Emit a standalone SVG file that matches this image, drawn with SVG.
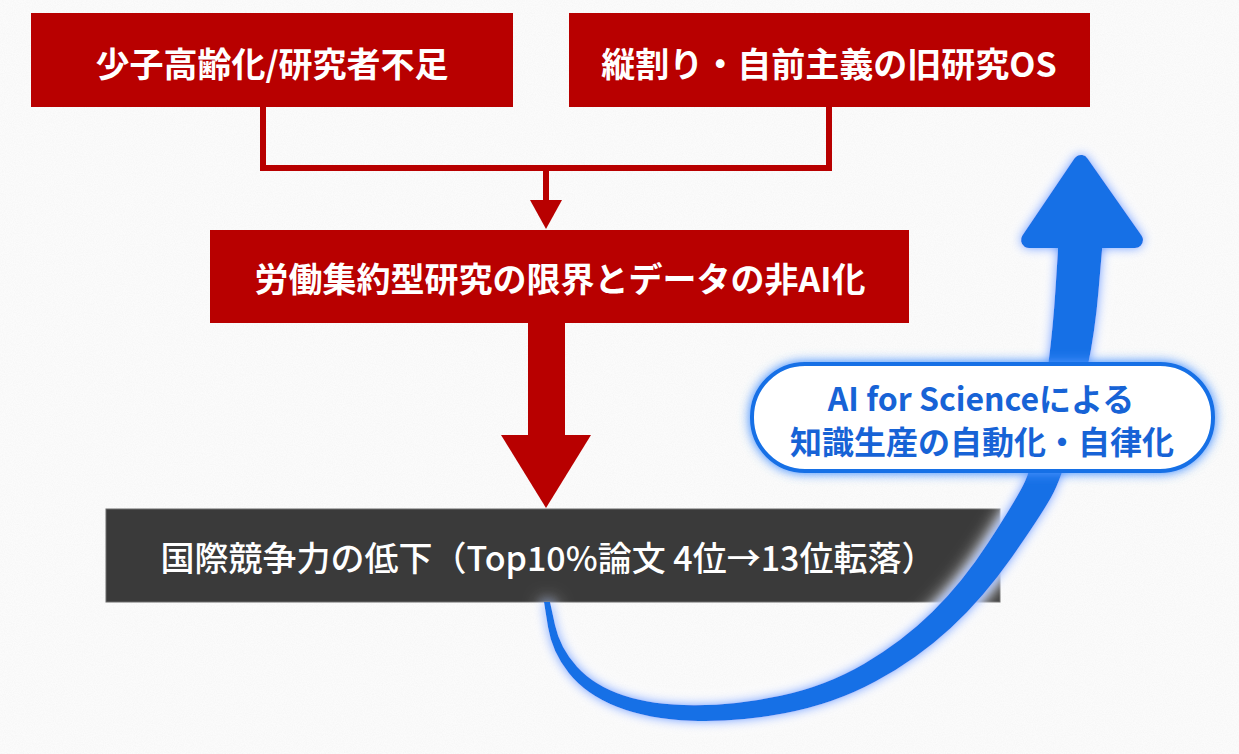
<svg xmlns="http://www.w3.org/2000/svg" width="1239" height="754" viewBox="0 0 1239 754">
<style>
.red{fill:#b80000}
.lbl{font-family:"Noto Sans CJK JP","Noto Sans",sans-serif;font-weight:700;font-size:34px;fill:#ffffff;text-anchor:middle;dominant-baseline:central}
.lbl2{font-family:"Noto Sans CJK JP","Noto Sans",sans-serif;font-weight:500;font-size:34px;fill:#ffffff;text-anchor:middle;dominant-baseline:central}
.blu{font-family:"Noto Sans CJK JP","Noto Sans",sans-serif;font-weight:700;font-size:32px;fill:#1763d6;text-anchor:middle;dominant-baseline:central}
.conn{fill:none;stroke:#b80000;stroke-width:6}
.arrowblue{fill:#1570e6;stroke:#1570e6}
</style>
<defs>
<filter id="tex" x="0" y="0" width="100%" height="100%">
<feTurbulence type="fractalNoise" baseFrequency="0.9" numOctaves="2" seed="3" result="n"/>
<feColorMatrix in="n" type="matrix" values="0 0 0 0 0.5  0 0 0 0 0.5  0 0 0 0 0.5  0 0 0 -1.6 1.1"/>
</filter>
<filter id="glow" x="-30%" y="-30%" width="160%" height="160%">
<feGaussianBlur in="SourceAlpha" stdDeviation="10" result="w1"/>
<feComponentTransfer in="w1" result="w2"><feFuncA type="linear" slope="1.6"/></feComponentTransfer>
<feFlood flood-color="#ffffff"/>
<feComposite in2="w2" operator="in" result="white"/>
<feGaussianBlur in="SourceAlpha" stdDeviation="6" result="b1"/>
<feComponentTransfer in="b1" result="b2"><feFuncA type="linear" slope="1.4"/></feComponentTransfer>
<feFlood flood-color="#5a9eff" flood-opacity="0.85"/>
<feComposite in2="b2" operator="in" result="blue"/>
<feMerge><feMergeNode in="white"/><feMergeNode in="blue"/><feMergeNode in="SourceGraphic"/></feMerge>
</filter>
<filter id="pglow" x="-20%" y="-40%" width="140%" height="180%">
<feGaussianBlur in="SourceAlpha" stdDeviation="6" result="b1"/>
<feComponentTransfer in="b1" result="b2"><feFuncA type="linear" slope="1.4"/></feComponentTransfer>
<feFlood flood-color="#4a94ff" flood-opacity="0.85"/>
<feComposite in2="b2" operator="in" result="blue"/>
<feMerge><feMergeNode in="blue"/><feMergeNode in="SourceGraphic"/></feMerge>
</filter>
</defs>
<rect x="0" y="0" width="1239" height="754" fill="#fbfbfb"/>
<rect x="0" y="0" width="1239" height="754" filter="url(#tex)" opacity="0.08"/>

<g id="connectors">
<polyline class="conn" points="263,107 263,168 829,168 829,107"/>
<line class="conn" x1="546" y1="168" x2="546" y2="205"/>
<polygon class="red" points="530,200 562,200 546,229"/>
<rect class="red" x="528" y="320" width="37" height="120"/>
<polygon class="red" points="501,435 591,435 546,508"/>
</g>

<g id="node-shoshi">
<rect class="red" x="31" y="13" width="482" height="94"/>
<text class="lbl" x="272" y="62">少子高齢化/研究者不足</text>
</g>
<g id="node-tatewari">
<rect class="red" x="569" y="13" width="521" height="94"/>
<text class="lbl" x="829" y="62">縦割り・自前主義の旧研究OS</text>
</g>
<g id="node-roudou">
<rect class="red" x="210" y="230" width="699" height="93"/>
<text class="lbl" x="560" y="277">労働集約型研究の限界とデータの非AI化</text>
</g>
<g id="node-kokusai">
<rect x="106" y="509" width="894" height="93" fill="#3a3a3a" stroke="#6a6a6a" stroke-width="1"/>
<text class="lbl2" x="548" y="556">国際競争力の低下（Top10%論文 4位→13位転落）</text>
</g>

<g id="blue-arrow" filter="url(#glow)">
<path class="arrowblue" stroke-width="0" d="M544,602 L548,627 Q552,652 569,673.25 Q586,694.5 617,706.75 Q648,719 691.5,720.75 Q735,722.5 784.5,713.25 Q834,704 875.8,681.3 Q917.6,658.6 950.5,628.2 Q983.4,597.8 1011.7,557.4 Q1040,517 1051,497.5 Q1062,478 1071,440.5 Q1080,403 1087.5,367.5 Q1095,332 1098.5,291 L1102,250 L1102,236 L1058,236 L1058,250 L1055.5,289 Q1053,328 1048.5,362.5 Q1044,397 1038,432.5 Q1032,468 1023,485.5 Q1014,503 988.3,542.6 Q962.6,582.2 932.5,611.8 Q902.4,641.4 864.2,663.7 Q826,686 780.5,695.75 Q735,705.5 693.5,705.25 Q652,705 623,695.25 Q594,685.5 577,666.75 Q560,648 555,625 L550,602 Z"/>
<polygon class="arrowblue" stroke-width="16" stroke-linejoin="round" points="1081,163 1029,240 1135,240"/>
</g>

<g id="node-ai">
<rect x="752" y="364" width="461" height="107" rx="53" ry="53" fill="#ffffff" stroke="#1570e6" stroke-width="4" filter="url(#pglow)"/>
<text class="blu" x="981" y="397">AI for Scienceによる</text>
<text class="blu" x="982" y="440">知識生産の自動化・自律化</text>
</g>
</svg>
